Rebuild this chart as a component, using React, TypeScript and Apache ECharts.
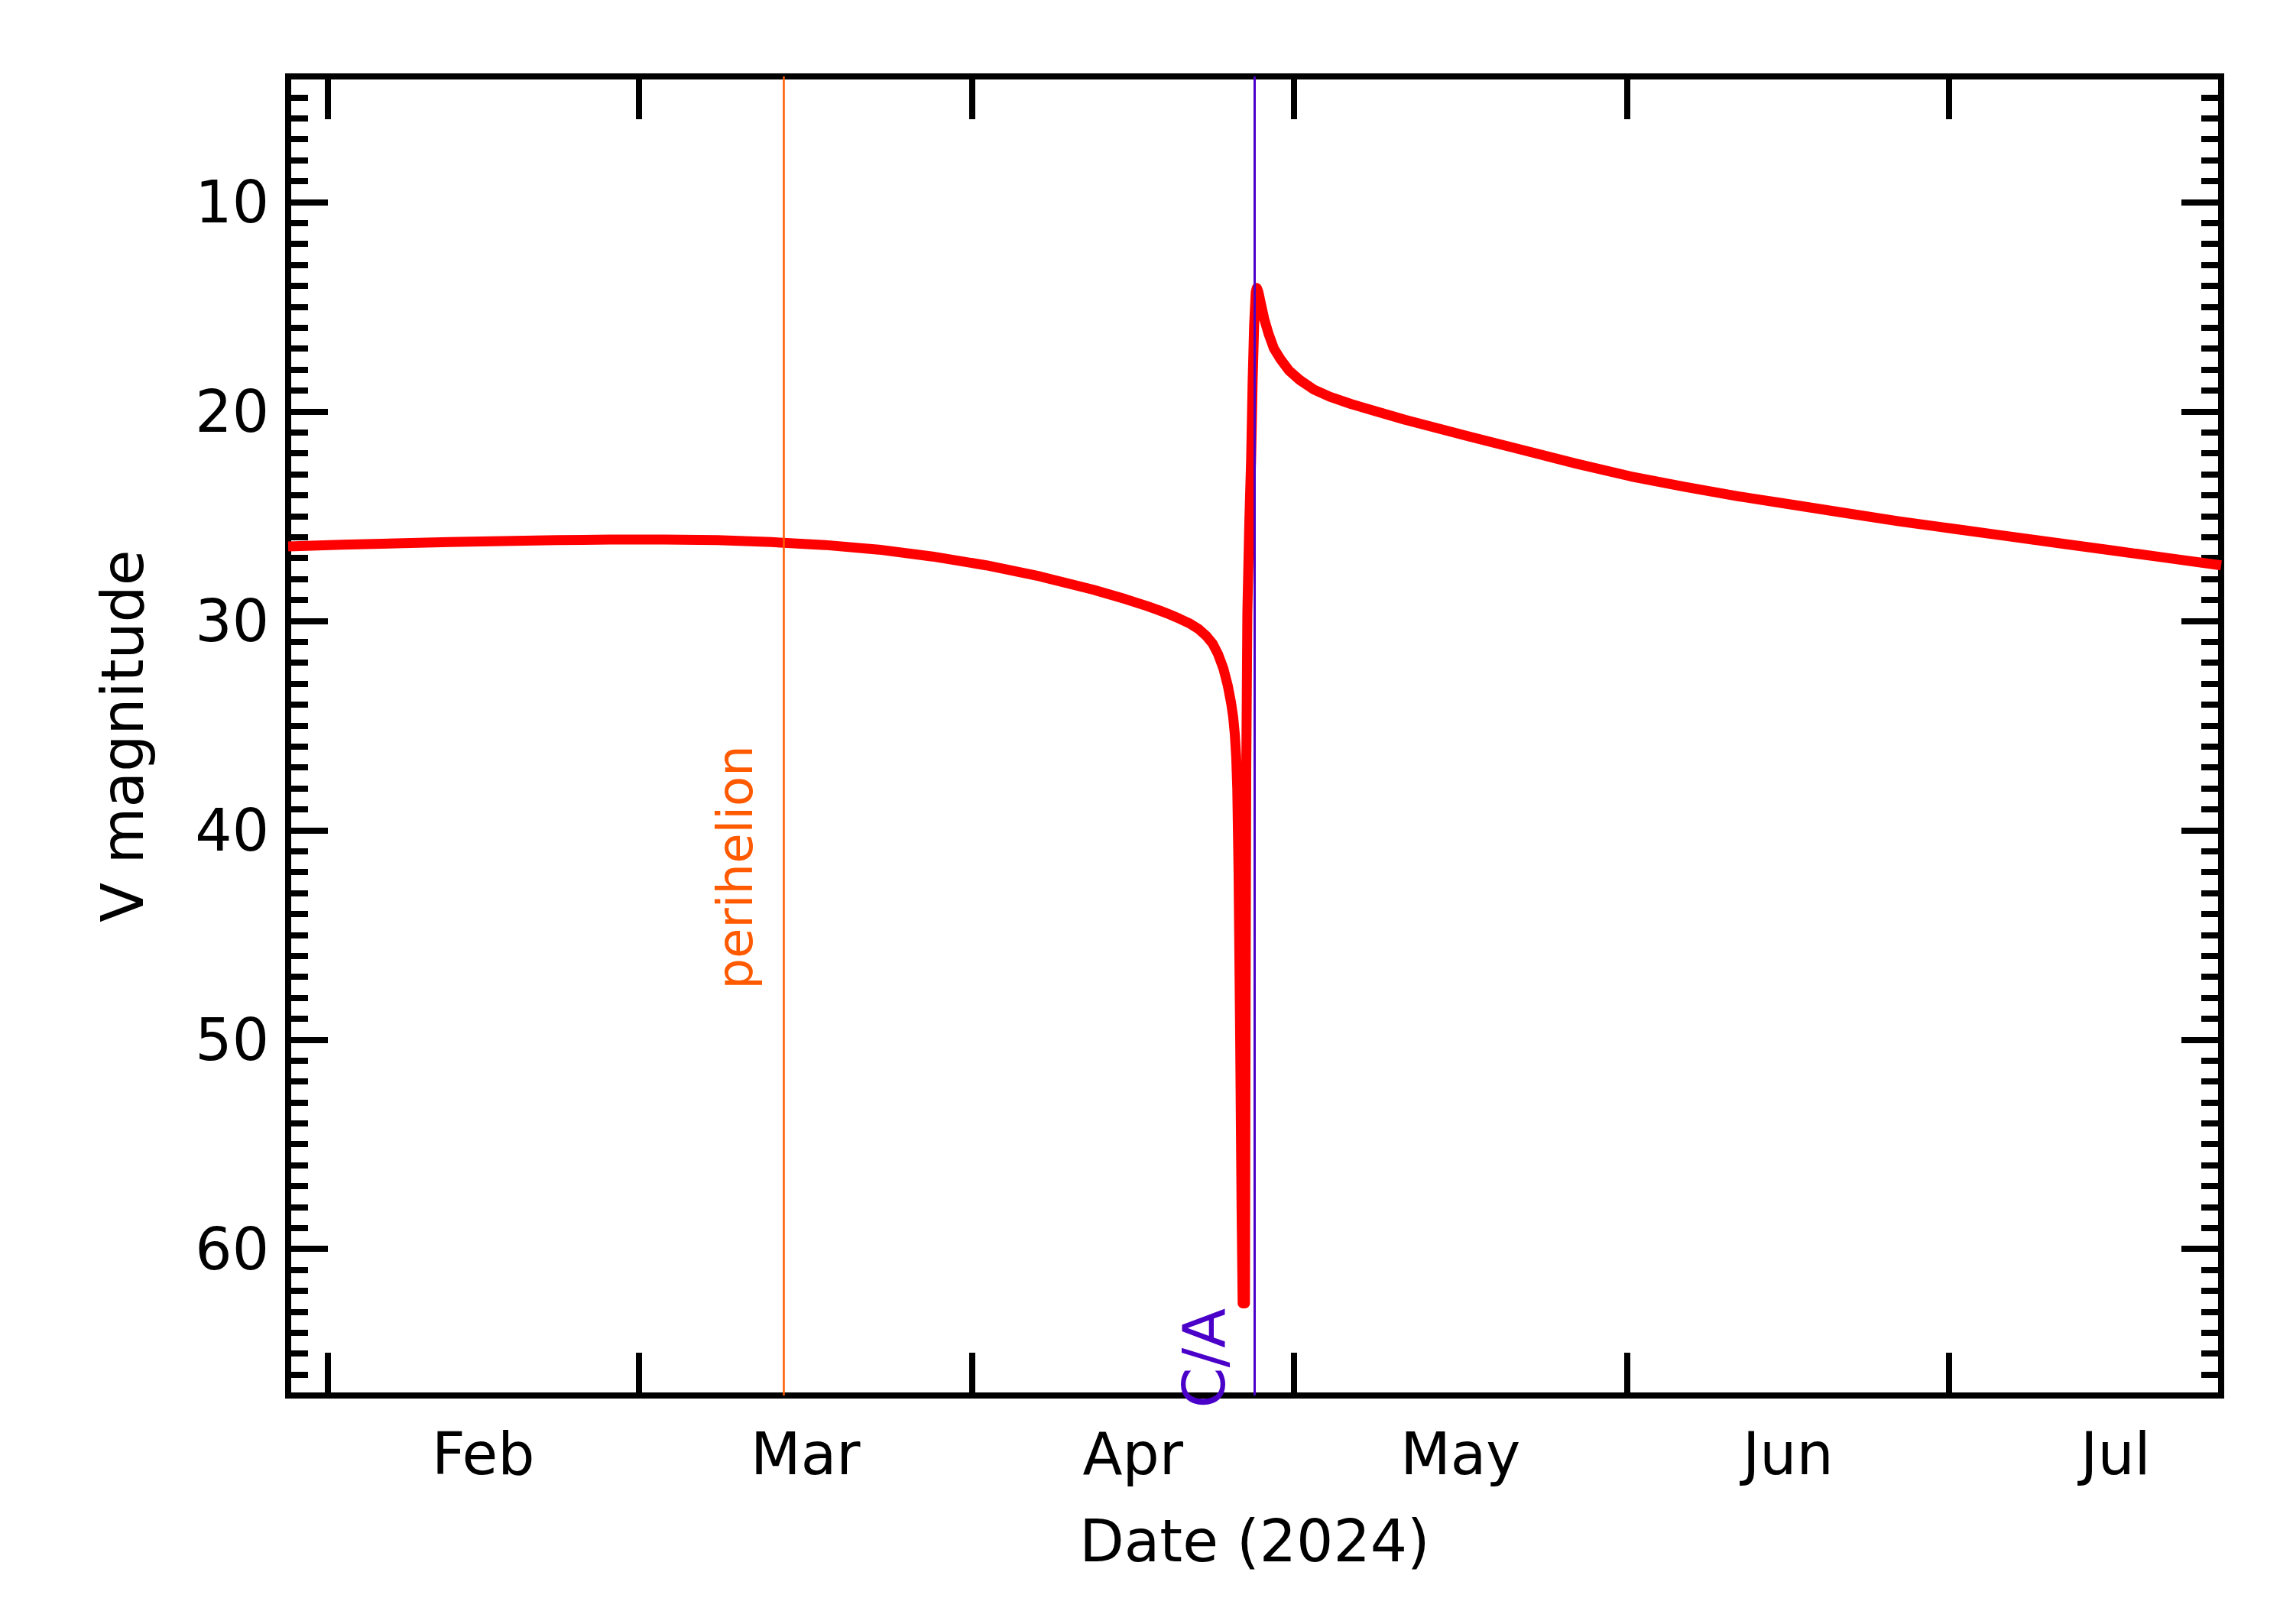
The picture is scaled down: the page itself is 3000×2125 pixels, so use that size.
import React, { useEffect, useRef } from "react";
import * as echarts from "echarts";

// ---- data ----
const closeApproach = "2024-04-27T08:00:00Z";
const perihelion = "2024-03-14T12:00:00Z";
const axisStart = "2024-01-28T08:00:00Z";
const axisEnd = "2024-07-26T08:00:00Z";

const daysFromCA = [
  -90, -85, -80, -75, -70, -65, -60, -55, -50, -45, -40, -35, -30, -25, -20, -15, -12, -10, -9,
  -8, -7, -6, -5.2, -4.5, -3.9, -3.4, -2.9, -2.5, -2.2, -2.0, -1.85, -1.72, -1.62, -1.5, -1.35,
  -1.22, -1.12, -0.9, -0.84, -0.78, -0.68, -0.5, -0.33, -0.19, -0.05, 0.1, 0.2, 0.35, 0.6, 0.9,
  1.3, 1.8, 2.4, 3.2, 4.2, 5.5, 7, 9, 11, 14, 17, 20, 25, 30, 35, 40, 45, 50, 55, 60, 65, 70, 75,
  80, 85, 90,
];
const vMag = [
  26.45, 26.37, 26.3, 26.24, 26.19, 26.15, 26.12, 26.12, 26.15, 26.24, 26.38, 26.6, 26.93, 27.35,
  27.88, 28.52, 28.97, 29.3, 29.48, 29.68, 29.9, 30.14, 30.4, 30.72, 31.1, 31.6, 32.3, 33.1, 33.9,
  34.6, 35.4, 36.5, 38.0, 42.0, 50.0, 58.0, 62.6, 62.6, 48.0, 37.0, 29.6, 25.3, 22.3, 18.6, 15.9,
  14.3, 14.1, 14.3, 14.9, 15.6, 16.3, 17.0, 17.5, 18.05, 18.5, 18.95, 19.3, 19.65, 19.95, 20.4,
  20.8, 21.2, 21.85, 22.5, 23.1, 23.6, 24.05, 24.45, 24.85, 25.25, 25.6, 25.95, 26.3, 26.65, 27.0,
  27.35,
];

const monthStarts = [
  "2024-02-01T00:00:00Z",
  "2024-03-01T00:00:00Z",
  "2024-04-01T00:00:00Z",
  "2024-05-01T00:00:00Z",
  "2024-06-01T00:00:00Z",
  "2024-07-01T00:00:00Z",
  "2024-08-01T00:00:00Z",
];
const monthLabels = ["Feb", "Mar", "Apr", "May", "Jun", "Jul"];

const yMin = 4;
const yMax = 67;
const yMajorTicks = [10, 20, 30, 40, 50, 60];

const perihelionLabelMag = 47.6;
const caLabelMag = 67.6;

const FONT = "DejaVu Sans";
const RED = "#ff0000";
const ORANGE = "#ff5a00";
const VIOLET = "#4a00c8";

export default function App() {
  const ref = useRef<HTMLDivElement>(null);

  useEffect(() => {
    document.body.style.margin = "0";
    const chart = echarts.init(ref.current!, null, { renderer: "svg" });

    const DAY = 86400000;
    const caT = Date.parse(closeApproach);
    const periT = Date.parse(perihelion);
    const tMin = Date.parse(axisStart);
    const tMax = Date.parse(axisEnd);
    const seriesData = daysFromCA.map((d, i) => [caT + d * DAY, vMag[i]]);

    const monthT = monthStarts.map((s) => Date.parse(s));
    const tickT = monthT.slice(0, monthLabels.length);
    const labelT = monthLabels.map((_, i) => (monthT[i] + monthT[i + 1]) / 2);
    const monthName = (v: number) => {
      const idx = labelT.findIndex((t) => Math.abs(t - v) < DAY);
      return idx >= 0 ? monthLabels[idx] : "";
    };

    const yMinor: number[] = [];
    for (let v = yMin + 1; v < yMax; v++) yMinor.push(v);

    const tickStyle = { color: "#000", width: 8 };

    const xBase = {
      type: "value",
      min: tMin,
      max: tMax,
      axisLine: { show: false },
      splitLine: { show: false },
    };
    const yBase = {
      type: "value",
      min: yMin,
      max: yMax,
      inverse: true,
      axisLine: { show: false },
      splitLine: { show: false },
    };

    const option: any = {
      animation: false,
      backgroundColor: "#fff",
      grid: {
        left: 377,
        right: 94,
        top: 100,
        bottom: 299,
        show: true,
        borderWidth: 8,
        borderColor: "#000",
        backgroundColor: "transparent",
      },
      xAxis: [
        {
          ...xBase,
          position: "bottom",
          name: "Date (2024)",
          nameLocation: "middle",
          nameGap: 152,
          nameTextStyle: { fontFamily: FONT, fontSize: 76, color: "#000" },
          axisTick: { show: true, inside: true, length: 56, lineStyle: tickStyle, customValues: tickT },
          axisLabel: {
            show: true,
            customValues: labelT,
            formatter: (v: number) => monthName(v),
            fontFamily: FONT,
            fontSize: 76,
            color: "#000",
            margin: 38,
          },
        },
        {
          ...xBase,
          position: "top",
          axisTick: { show: true, inside: true, length: 56, lineStyle: tickStyle, customValues: tickT },
          axisLabel: { show: false },
        },
      ],
      yAxis: [
        {
          ...yBase,
          position: "left",
          name: "V magnitude",
          nameLocation: "middle",
          nameGap: 179,
          nameTextStyle: { fontFamily: FONT, fontSize: 76, color: "#000" },
          axisTick: { show: true, inside: true, length: 52, lineStyle: tickStyle, customValues: yMajorTicks },
          axisLabel: {
            show: true,
            customValues: yMajorTicks,
            fontFamily: FONT,
            fontSize: 76,
            color: "#000",
            margin: 25,
          },
        },
        {
          ...yBase,
          position: "left",
          axisTick: { show: true, inside: true, length: 26, lineStyle: tickStyle, customValues: yMinor },
          axisLabel: { show: false },
        },
        {
          ...yBase,
          position: "right",
          axisTick: { show: true, inside: true, length: 52, lineStyle: tickStyle, customValues: yMajorTicks },
          axisLabel: { show: false },
        },
        {
          ...yBase,
          position: "right",
          axisTick: { show: true, inside: true, length: 26, lineStyle: tickStyle, customValues: yMinor },
          axisLabel: { show: false },
        },
      ],
      series: [
        {
          type: "line",
          xAxisIndex: 0,
          yAxisIndex: 0,
          data: seriesData,
          showSymbol: false,
          symbol: "none",
          smooth: false,
          lineStyle: { color: RED, width: 13, join: "round" },
          z: 3,
          markLine: {
            silent: true,
            symbol: ["none", "none"],
            label: { show: false },
            z: 5,
            data: [
              { xAxis: periT, lineStyle: { color: ORANGE, width: 2.5, type: "solid" } },
              { xAxis: caT, lineStyle: { color: VIOLET, width: 3, type: "solid" } },
            ],
          },
        },
      ],
    };

    chart.setOption(option);

    const periX = chart.convertToPixel({ xAxisIndex: 0 }, periT) as number;
    const caX = chart.convertToPixel({ xAxisIndex: 0 }, caT) as number;
    const periY = chart.convertToPixel({ yAxisIndex: 0 }, perihelionLabelMag) as number;
    const caY = chart.convertToPixel({ yAxisIndex: 0 }, caLabelMag) as number;

    chart.setOption({
      graphic: [
        {
          type: "text",
          x: periX - 64,
          y: periY,
          rotation: Math.PI / 2,
          z: 10,
          style: {
            text: "perihelion",
            fill: ORANGE,
            fontFamily: FONT,
            fontSize: 64,
            textAlign: "left",
            textVerticalAlign: "middle",
            align: "left",
            verticalAlign: "middle",
          },
        },
        {
          type: "text",
          x: caX - 66,
          y: caY,
          rotation: Math.PI / 2,
          z: 10,
          style: {
            text: "C/A",
            fill: VIOLET,
            fontFamily: FONT,
            fontSize: 76,
            textAlign: "left",
            textVerticalAlign: "middle",
            align: "left",
            verticalAlign: "middle",
          },
        },
      ],
    });

    return () => chart.dispose();
  }, []);

  return <div ref={ref} style={{ width: 3000, height: 2125 }} />;
}
